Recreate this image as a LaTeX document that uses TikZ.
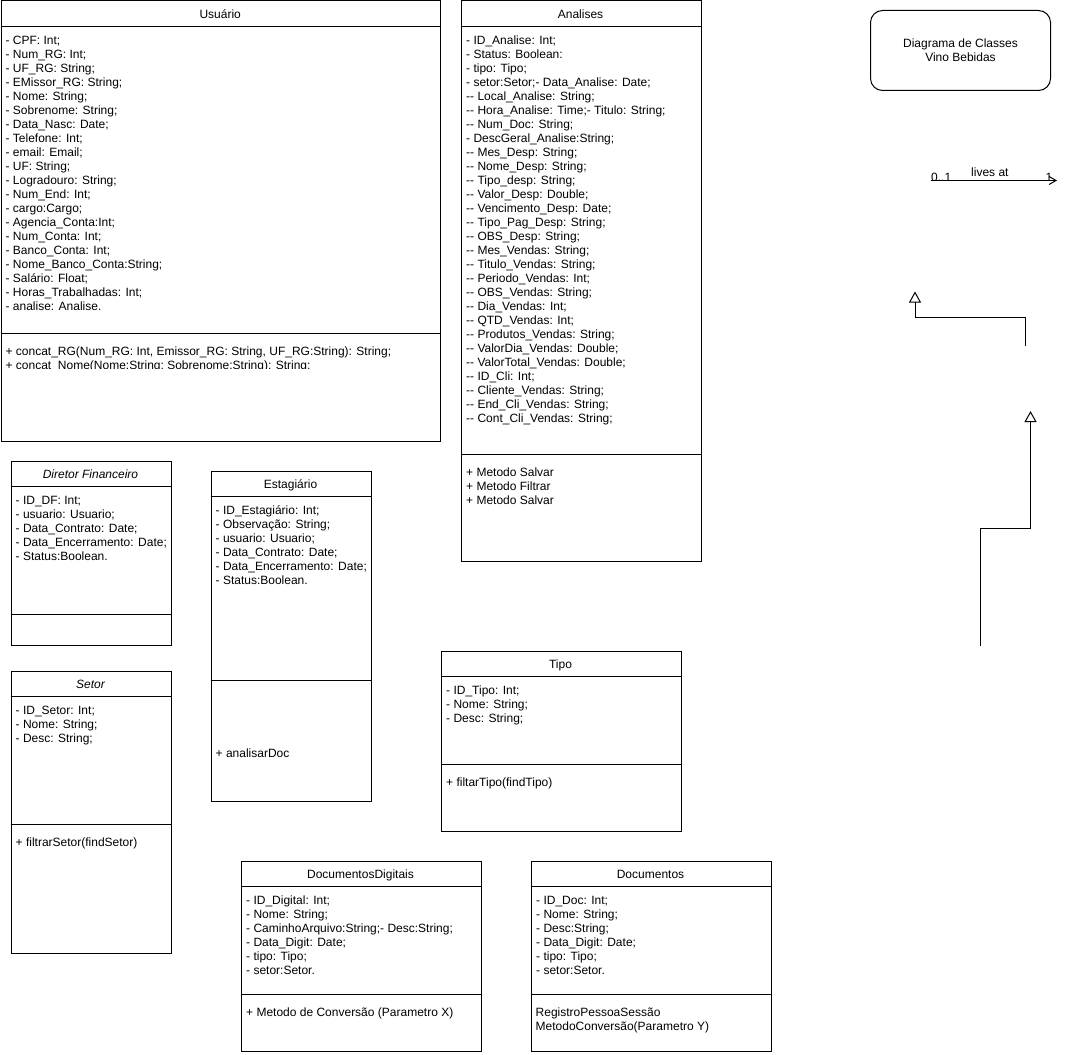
\documentclass[tikz,border=0pt]{standalone}
\usepackage{fontspec}
\setmainfont{Liberation Sans}
\usetikzlibrary{arrows.meta}
\newcommand\ustrut{\rule{0pt}{10pt}}
\newcommand\dd{-\kern0pt-}
\tikzset{
  ln/.style={line width=1pt, draw=black},
  clsbox/.style={ln, rectangle, inner sep=0pt, anchor=north west},
  ttl/.style={anchor=base, inner sep=0pt, font=\fontsize{12}{14}\selectfont},
  txt/.style={anchor=north west, align=left, inner sep=0pt, font=\fontsize{12}{14}\selectfont},
  lbl/.style={anchor=base west, inner sep=0pt, font=\fontsize{12}{14}\selectfont},
  gen/.style={ln, -{Triangle[open, length=11pt, width=12pt]}},
}
% #1 name, #2 x1, #3 y1, #4 x2, #5 y2, #6 header y, #7 separator y, #8 title
\newcommand\umlbox[8]{%
  \node[clsbox, minimum width={#4-#2}, minimum height={#5-#3}] (#1) at (#2,#3) {};
  \draw[ln] (#2,#6) -- (#4,#6);
  \draw[ln] (#2,#7) -- (#4,#7);
  \node[ttl] (#1-t) at ({(#2+#4)/2},{#3+18.3}) {#8};
}
\begin{document}
\begin{tikzpicture}[x=1pt,y=-1pt]
\useasboundingbox (0,0) rectangle (1067,1054);

% Usuario
\umlbox{usuario}{0.5}{0.5}{440}{440.5}{26.5}{333.5}{Usuário}
\node[txt] (usuario-a) at (5.4,{44-10}) {\ustrut- CPF: Int;\\
- Num\_RG: Int;\\
- UF\_RG: String;\\
- EMissor\_RG: String;\\
- Nome: String;\\
- Sobrenome: String;\\
- Data\_Nasc: Date;\\
- Telefone: Int;\\
- email: Email;\\
- UF: String;\\
- Logradouro: String;\\
- Num\_End: Int;\\
- cargo:Cargo;\\
- Agencia\_Conta:Int;\\
- Num\_Conta: Int;\\
- Banco\_Conta: Int;\\
- Nome\_Banco\_Conta:String;\\
- Salário: Float;\\
- Horas\_Trabalhadas: Int;\\
- analise: Analise.};
\begin{scope}
\clip (0,334) rectangle (440,368.6);
\node[txt] (usuario-m) at (5.4,{355.5-10}) {\ustrut+ concat\_RG(Num\_RG: Int, Emissor\_RG: String, UF\_RG:String): String;\\
+ concat\_Nome(Nome:String; Sobrenome:String): String;};
\end{scope}

% Analises
\umlbox{analises}{460.5}{0.5}{700.5}{560.5}{26.5}{454.5}{Analises}
\node[txt] (analises-a) at (466,{44-10}) {\ustrut- ID\_Analise: Int;\\
- Status: Boolean:\\
- tipo: Tipo;\\
- setor:Setor;- Data\_Analise: Date;\\
\dd{} Local\_Analise: String;\\
\dd{} Hora\_Analise: Time;- Titulo: String;\\
\dd{} Num\_Doc: String;\\
- DescGeral\_Analise:String;\\
\dd{} Mes\_Desp: String;\\
\dd{} Nome\_Desp: String;\\
\dd{} Tipo\_desp: String;\\
\dd{} Valor\_Desp: Double;\\
\dd{} Vencimento\_Desp: Date;\\
\dd{} Tipo\_Pag\_Desp: String;\\
\dd{} OBS\_Desp: String;\\
\dd{} Mes\_Vendas: String;\\
\dd{} Titulo\_Vendas: String;\\
\dd{} Periodo\_Vendas: Int;\\
\dd{} OBS\_Vendas: String;\\
\dd{} Dia\_Vendas: Int;\\
\dd{} QTD\_Vendas: Int;\\
\dd{} Produtos\_Vendas: String;\\
\dd{} ValorDia\_Vendas: Double;\\
\dd{} ValorTotal\_Vendas: Double;\\
\dd{} ID\_Cli: Int;\\
\dd{} Cliente\_Vendas: String;\\
\dd{} End\_Cli\_Vendas: String;\\
\dd{} Cont\_Cli\_Vendas: String;};
\node[txt] (analises-m) at (466,{476.5-10}) {\ustrut+ Metodo Salvar\\
+ Metodo Filtrar\\
+ Metodo Salvar};

% Diagram title
\node[ln, rectangle, rounded corners=12pt, minimum width=180, minimum height=80, align=center, inner sep=0pt, font=\fontsize{12}{14}\selectfont] (diag) at (960.5,50.5) {Diagrama de Classes\\Vino Bebidas};

% lives at association
\coordinate (la) at (930.5,180.5);
\coordinate (lb) at (1057,180.5);
\draw[ln, -{Straight Barb[length=7pt, width=8pt]}] (la) -- (lb);
\node[lbl] (l0) at (931,181) {0..1};
\node[lbl] (llab) at (971,176) {lives at};
\node[lbl] (l1) at (1045.5,181) {1};

% generalization connectors
\coordinate (g1s) at (1025.5,346);
\coordinate (g1a) at (1025.5,317.5);
\coordinate (g1b) at (915,317.5);
\coordinate (g1e) at (915,291.5);
\draw[gen] (g1s) -- (g1a) -- (g1b) -- (g1e);
\coordinate (g2s) at (980.5,646);
\coordinate (g2a) at (980.5,528.5);
\coordinate (g2b) at (1030.5,528.5);
\coordinate (g2e) at (1030.5,411);
\draw[gen] (g2s) -- (g2a) -- (g2b) -- (g2e);

% Diretor Financeiro
\umlbox{df}{10.5}{460.5}{170.5}{644.5}{486.5}{614.5}{\itshape Diretor Financeiro}
\node[txt] (df-a) at (15.5,{504-10}) {\ustrut- ID\_DF: Int;\\
- usuario: Usuario;\\
- Data\_Contrato: Date;\\
- Data\_Encerramento: Date;\\
- Status:Boolean.};

% Estagiario
\umlbox{estag}{210.5}{470.5}{370.5}{800.5}{496.5}{680.5}{Estagiário}
\node[txt] (estag-a) at (215.5,{514-10}) {\ustrut- ID\_Estagiário: Int;\\
- Observação: String;\\
- usuario: Usuario;\\
- Data\_Contrato: Date;\\
- Data\_Encerramento: Date;\\
- Status:Boolean.};
\node[txt] (estag-m) at (215.5,{757.6-10}) {\ustrut+ analisarDoc};

% Setor
\umlbox{setor}{10.5}{670.5}{170.5}{952.5}{696.5}{824.5}{\itshape Setor}
\node[txt] (setor-a) at (15.5,{714-10}) {\ustrut- ID\_Setor: Int;\\
- Nome: String;\\
- Desc: String;};
\node[txt] (setor-m) at (15.5,{846.5-10}) {\ustrut+ filtrarSetor(findSetor)};

% Tipo
\umlbox{tipo}{440.5}{650.5}{680.5}{830.5}{676.5}{764.5}{Tipo}
\node[txt] (tipo-a) at (446,{694-10}) {\ustrut- ID\_Tipo: Int;\\
- Nome: String;\\
- Desc: String;};
\node[txt] (tipo-m) at (446,{786.5-10}) {\ustrut+ filtarTipo(findTipo)};

% DocumentosDigitais
\umlbox{docdig}{240.5}{860.5}{480.5}{1050.5}{886.5}{994.5}{DocumentosDigitais}
\node[txt] (docdig-a) at (246,{904-10}) {\ustrut- ID\_Digital: Int;\\
- Nome: String;\\
- CaminhoArquivo:String;- Desc:String;\\
- Data\_Digit: Date;\\
- tipo: Tipo;\\
- setor:Setor.};
\node[txt] (docdig-m) at (246,{1016-10}) {\ustrut+ Metodo de Conversão (Parametro X)};

% Documentos
\umlbox{doc}{530.5}{860.5}{770.5}{1050.5}{886.5}{994.5}{Documentos}
\node[txt] (doc-a) at (536,{904-10}) {\ustrut- ID\_Doc: Int;\\
- Nome: String;\\
- Desc:String;\\
- Data\_Digit: Date;\\
- tipo: Tipo;\\
- setor:Setor.};
\node[txt] (doc-m) at (535.5,{1016-10}) {\ustrut RegistroPessoaSessão\\
MetodoConversão(Parametro Y)};
\end{tikzpicture}
\end{document}
